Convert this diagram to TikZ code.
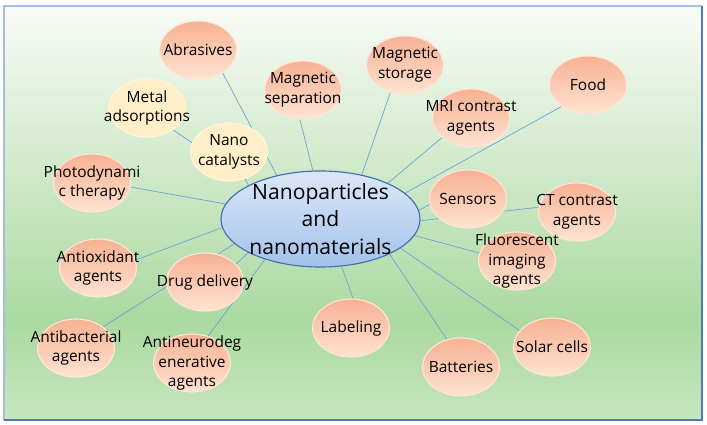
\documentclass[tikz,border=0pt]{standalone}
\usepackage{fontspec}
\setmainfont{Open Sans}
\usepackage{tikz}
\usetikzlibrary{
  shapes.geometric,
  backgrounds
}

\definecolor{bgtop}{HTML}{F8FBF6}
\definecolor{bgmid}{HTML}{ABD9A0}
\definecolor{bgbot}{HTML}{C6E6BF}
\definecolor{orgtop}{HTML}{F7B192}
\definecolor{orgbot}{HTML}{FEE3D2}
\definecolor{orgline}{HTML}{FCE6D8}
\definecolor{yelfill}{HTML}{FFEFC9}
\definecolor{yelline}{HTML}{FFF4DC}
\definecolor{hubtop}{HTML}{DCE7F6}
\definecolor{hubbot}{HTML}{A3C2EC}
\definecolor{hubline}{HTML}{3E6FAF}
\definecolor{linkblue}{HTML}{6FA3D6}
\definecolor{framelt}{HTML}{A4BCE0}
\definecolor{framedk}{HTML}{4F7BB5}

\pgfdeclareverticalshading{bgshade}{100bp}{color(0bp)=(bgbot); color(25bp)=(bgbot); color(37bp)=(bgmid); color(75bp)=(bgtop); color(100bp)=(bgtop)}

\begin{document}
\begin{tikzpicture}[
  x=0.025cm, y=-0.025cm,
  bubtext/.style={
    font=\fontsize{11}{14}\selectfont,
    align=center,
    text=black,
    inner sep=0pt
  },
  bubble/.style={
    ellipse,
    draw=orgline,
    line width=0.8pt,
    top color=orgtop,
    bottom color=orgbot,
    minimum width=1.92cm,
    minimum height=1.45cm,
    inner sep=0pt
  },
  ybubble/.style={
    bubble,
    draw=yelline,
    top color=yelfill,
    bottom color=yelfill
  },
  hub/.style={
    ellipse,
    draw=hubline,
    line width=0.8pt,
    top color=hubtop,
    bottom color=hubbot,
    minimum width=4.975cm,
    minimum height=2.4cm,
    inner sep=0pt
  },
  link/.style={
    draw=linkblue,
    line width=0.5pt
  }
]

\useasboundingbox (0,0) rectangle (707,425);

% Centre
\node[hub, label={[bubtext, font=\fontsize{15}{19.5}\selectfont]center:{Nanoparticles\\and\\nanomaterials}}] (hub) at (320.5,219) {};

% Upper left
\node[bubble, label={[bubtext]center:Abrasives}] (abr) at (198,50) {};
\node[bubble, label={[bubtext]center:{Magnetic\\separation}}] (msep) at (303,90) {};
\node[ybubble, label={[bubtext]center:{Metal\\adsorptions}}] (mads) at (147,108) {};
\node[ybubble, label={[bubtext]center:{Nano\\catalysts}}] (nano) at (229,152) {};
\node[bubble, label={[bubtext]center:{Photodynami\\c therapy}}] (photo) at (92,183) {};

% Upper right
\node[bubble, label={[bubtext]center:{Magnetic\\storage}}] (mstor) at (405,65) {};
\node[bubble, label={[bubtext]center:{MRI contrast\\agents}}] (mri) at (471,118) {};
\node[bubble, label={[bubtext]center:Food}] (food) at (588,85) {};
\node[bubble, label={[bubtext]center:Sensors}] (sens) at (468,199) {};
\node[bubble, label={[bubtext]center:{CT contrast\\agents}}] (ct) at (577,212) {};

% Lower right
\node[bubble, label={[bubtext]center:{Fluorescent\\imaging\\agents}}] (fluo) at (517,261) {};
\node[bubble, label={[bubtext]center:Solar cells}] (solar) at (552,347) {};
\node[bubble, label={[bubtext]center:Batteries}] (batt) at (461,367) {};
\node[bubble, label={[bubtext]center:Labeling}] (lab) at (351,328) {};

% Lower left
\node[bubble, label={[bubtext]center:{Antioxidant\\agents}}] (anox) at (98,268) {};
\node[bubble, label={[bubtext]center:Drug delivery}] (drug) at (205,282) {};
\node[bubble, label={[bubtext]center:{Antibacterial\\agents}}] (abac) at (76,348) {};
\node[bubble, label={[bubtext]center:{Antineurodeg\\enerative\\agents}}] (aneu) at (192,363) {};

\begin{scope}[on background layer]
  % Panel
  \shade[shading=bgshade] (4,6) rectangle (702,420);

  % Links
  \draw[link] (abr.-43) -- (hub.135);
  \draw[link] (msep.-96) -- (hub.99);
  \draw[link] (mstor.-118) -- (hub.47);
  \draw[link] (mri.-146) -- (hub.28);
  \draw[link] (food.-141) -- (hub.17);
  \draw[link] (sens.-172) -- (hub.5);
  \draw[link] (ct.173) -- (hub.-1);
  \draw[link] (fluo.168) -- (hub.-10);
  \draw[link] (solar.153) -- (hub.-20);
  \draw[link] (batt.117) -- (hub.-27);
  \draw[link] (lab.86) -- (hub.-66);
  \draw[link] (aneu.59) -- (hub.-144);
  \draw[link] (drug.30) -- (hub.-155);
  \draw[link] (abac.38) -- (hub.-164);
  \draw[link] (anox.12) -- (hub.-175);
  \draw[link] (photo.-6) -- (hub.171);
  \draw[link] (nano.-59) -- (hub.155);
  \draw[link] (mads.-40) -- (nano.166);
\end{scope}

% Frame
\draw[framelt, line width=1pt] (4,420) -- (4,6) -- (702,6);
\draw[framedk, line width=1pt] (702,6) -- (702,420) -- (4,420);

\end{tikzpicture}
\end{document}
